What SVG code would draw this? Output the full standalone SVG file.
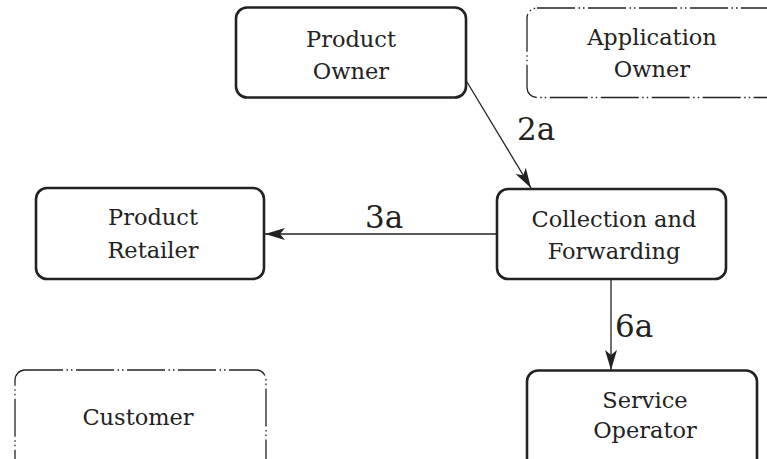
<svg xmlns="http://www.w3.org/2000/svg" width="767" height="459" viewBox="0 0 767 459">
  <style>
    .node { fill: #ffffff; stroke: #222222; stroke-width: 2.6; }
    .ghost { fill: #ffffff; stroke: #222222; stroke-width: 1.3; stroke-dasharray: 38 3.5 1.5 3 1.5 3.5; }
    .label { font-family: "DejaVu Serif", "Liberation Serif", serif; font-size: 22.5px; fill: #222222; text-anchor: middle; }
    .edge { stroke: #222222; stroke-width: 1.3; fill: none; }
    .elabel { font-family: "DejaVu Serif", "Liberation Serif", serif; font-size: 31px; fill: #222222; }
  </style>
  <defs>
    <marker id="arrow" viewBox="0 0 20 13" refX="20" refY="6.5" markerWidth="20" markerHeight="13" markerUnits="userSpaceOnUse" orient="auto">
      <path d="M0,0.5 L20,6.5 L0,12.5 L5,6.5 Z" fill="#222222"/>
    </marker>
  </defs>
  <rect width="767" height="459" fill="#ffffff"/>

  <g id="product-owner">
    <rect class="node" x="236" y="7.5" width="230" height="90" rx="11"/>
    <text class="label" x="351" y="47">Product</text>
    <text class="label" x="351" y="79">Owner</text>
  </g>

  <g id="application-owner">
    <rect class="ghost" x="527" y="8" width="250" height="89.5" rx="10"/>
    <text class="label" x="652" y="45">Application</text>
    <text class="label" x="652" y="77">Owner</text>
  </g>

  <g id="product-retailer">
    <rect class="node" x="36" y="188" width="228" height="91" rx="11"/>
    <text class="label" x="153" y="225">Product</text>
    <text class="label" x="153" y="258">Retailer</text>
  </g>

  <g id="collection-forwarding">
    <rect class="node" x="497" y="189" width="229" height="90" rx="11"/>
    <text class="label" x="614" y="227">Collection and</text>
    <text class="label" x="614" y="259">Forwarding</text>
  </g>

  <g id="customer">
    <rect class="ghost" x="15" y="370" width="251" height="100" rx="10"/>
    <text class="label" x="138" y="425">Customer</text>
  </g>

  <g id="service-operator">
    <rect class="node" x="527" y="370.5" width="230" height="100" rx="11"/>
    <text class="label" x="645" y="408">Service</text>
    <text class="label" x="645" y="438">Operator</text>
  </g>

  <g id="connectors">
    <line class="edge" x1="467" y1="82" x2="531" y2="188" marker-end="url(#arrow)"/>
    <text class="elabel" x="517" y="140">2a</text>
    <line class="edge" x1="497" y1="234" x2="265" y2="234" marker-end="url(#arrow)"/>
    <text class="elabel" x="365" y="228">3a</text>
    <line class="edge" x1="611" y1="279" x2="611" y2="370" marker-end="url(#arrow)"/>
    <text class="elabel" x="615" y="337">6a</text>
  </g>
</svg>
